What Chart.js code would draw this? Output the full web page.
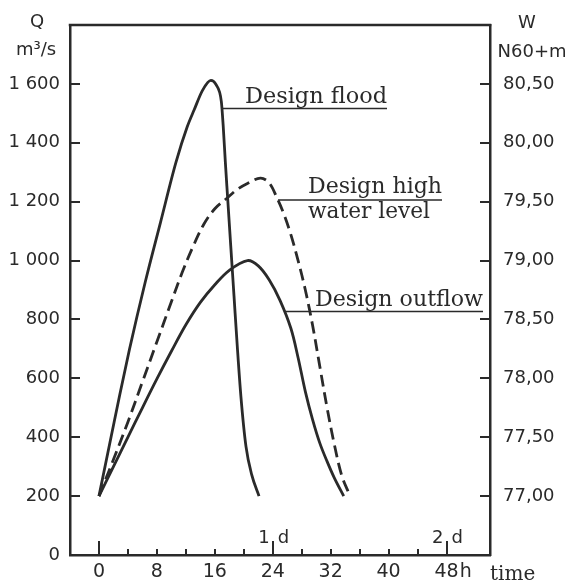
<!DOCTYPE html>
<html><head><meta charset="utf-8">
<script src="https://cdn.jsdelivr.net/npm/chart.js@4"></script>
<style>html,body{margin:0;padding:0;background:#fff}#wrap{width:580px;height:584px;position:relative}</style>
</head><body><div id="wrap"><canvas id="c" width="580" height="584"></canvas></div>
<script>
// ---- data ----
const timeLabelTicks = [0, 8, 16, 24, 32, 40, 48];
const timeMinorTicks = [0, 4, 8, 12, 16, 20, 24, 28, 32, 36, 40, 44, 48];
const dayHours = [24, 48];
const dayLabels = ['1', '2'];
const qTicks = [0, 200, 400, 600, 800, 1000, 1200, 1400, 1600];
const wTicks = [77.0, 77.5, 78.0, 78.5, 79.0, 79.5, 80.0, 80.5];

const floodTime = [0, 1.7, 2.85, 4.2, 6.4, 8.5, 10.65, 12.2, 13.15, 14.3, 15.45, 16.15, 16.9, 17.15, 17.45, 17.75, 18.2, 18.65, 19.1, 19.6, 20.3, 21.1, 22.1];
const floodQ    = [200, 404, 542, 697, 928, 1130, 1335, 1455, 1512, 1578, 1612, 1598, 1540, 1460, 1335, 1220, 1049, 879, 709, 539, 369, 272, 200];

const levelTime = [0, 2, 4, 6, 8, 10, 11.5, 13, 14.5, 16, 17.5, 19, 20.5, 22.3, 23.5, 24.6, 25.5, 26.5, 27.5, 28.5, 29.5, 30.5, 31.5, 32.5, 33.5, 34.6];
const levelW    = [77.00, 77.31, 77.63, 77.97, 78.31, 78.65, 78.90, 79.12, 79.31, 79.44, 79.52, 79.60, 79.655, 79.70, 79.66, 79.53, 79.40, 79.22, 79.00, 78.75, 78.45, 78.10, 77.75, 77.44, 77.18, 77.01];

const outflowTime = [0, 2, 4, 6, 8, 10, 12, 14, 16, 18, 20.5, 22, 23.5, 25, 26.5, 27.5, 28.5, 29.5, 30.5, 31.5, 32.5, 33.8];
const outflowQ    = [200, 300, 400, 500, 598, 692, 782, 858, 918, 967, 1000, 982, 935, 865, 770, 670, 555, 460, 380, 318, 262, 200];

// ---- styling ----
const INK = '#2a2a2a';
const SANS = "'DejaVu Sans', sans-serif";
const SERIF = "'DejaVu Serif', serif";

const pts = (xs, ys) => xs.map((t, i) => ({x: t, y: ys[i]}));

function fitText(ctx, text, x, baseline, target) {
  const w = ctx.measureText(text).width;
  ctx.save();
  ctx.translate(x, baseline);
  ctx.scale(target / w, 1);
  ctx.fillText(text, 0, 0);
  ctx.restore();
}

const overlay = {
  id: 'overlay',
  afterDraw(chart) {
    const {ctx, chartArea: a, scales: {x, y, y2}} = chart;
    ctx.save();
    ctx.strokeStyle = INK; ctx.fillStyle = INK;
    // top frame line
    ctx.lineWidth = 2.5;
    ctx.beginPath(); ctx.moveTo(a.left - 1.25, a.top); ctx.lineTo(a.right + 1.25, a.top); ctx.stroke();
    // inward ticks
    ctx.lineWidth = 2;
    ctx.beginPath();
    qTicks.forEach(v => { if (v === 0) return; const p = Math.round(y.getPixelForValue(v)); ctx.moveTo(a.left, p); ctx.lineTo(a.left + 10, p); });
    wTicks.forEach(v => { const p = Math.round(y2.getPixelForValue(v)); ctx.moveTo(a.right, p); ctx.lineTo(a.right - 10, p); });
    timeMinorTicks.forEach(v => {
      const p = Math.round(x.getPixelForValue(v));
      const long = v === 0 || dayHours.includes(v);
      ctx.moveTo(p, a.bottom); ctx.lineTo(p, a.bottom - (long ? 14 : 6));
    });
    ctx.stroke();

    // day labels
    ctx.font = '18px ' + SANS;
    ctx.textBaseline = 'alphabetic';
    dayHours.forEach((h, i) => {
      const p = x.getPixelForValue(h);
      ctx.textAlign = 'right'; ctx.fillText(dayLabels[i], p - 3, 543);
      ctx.textAlign = 'left'; ctx.fillText('d', p + 5, 543);
    });

    // "h" after 48
    ctx.font = '19px ' + SANS;
    ctx.textAlign = 'left'; ctx.textBaseline = 'middle';
    const p48 = x.getPixelForValue(48);
    const w48 = ctx.measureText('48').width;
    ctx.fillText('h', p48 + w48 / 2 + 1, a.bottom + 6 + 19 * 1.2 / 2);

    // axis titles
    ctx.font = '18px ' + SANS; ctx.textAlign = 'center'; ctx.textBaseline = 'alphabetic';
    ctx.fillText('Q', 37, 27);
    ctx.fillText('m³/s', 36, 55);
    ctx.fillText('W', 527, 28);
    ctx.fillText('N60+m', 532, 57);

    // time
    ctx.font = '20px ' + SERIF; ctx.textAlign = 'left';
    ctx.fillText('time', 490, 580);

    // annotations
    ctx.font = '22px ' + SERIF; ctx.textAlign = 'left';
    fitText(ctx, 'Design flood', 245, 103, 142);
    fitText(ctx, 'Design high', 308, 193, 134);
    fitText(ctx, 'water level', 308, 218, 122);
    fitText(ctx, 'Design outflow', 315, 306, 168);
    ctx.lineWidth = 1.6;
    ctx.beginPath();
    ctx.moveTo(223, 108.5); ctx.lineTo(387, 108.5);
    ctx.moveTo(278, 200); ctx.lineTo(442, 200);
    ctx.moveTo(285, 311.5); ctx.lineTo(483, 311.5);
    ctx.stroke();
    ctx.restore();
  }
};

const lineStyle = {borderColor: INK, borderWidth: 2.8, pointRadius: 0, tension: 0.35, fill: false};

new Chart(document.getElementById('c'), {
  type: 'line',
  data: {
    datasets: [
      Object.assign({label: 'Design flood', data: pts(floodTime, floodQ), yAxisID: 'y'}, lineStyle, {cubicInterpolationMode: 'monotone'}),
      Object.assign({label: 'Design high water level', data: pts(levelTime, levelW), yAxisID: 'y2', borderDash: [12, 6]}, lineStyle),
      Object.assign({label: 'Design outflow', data: pts(outflowTime, outflowQ), yAxisID: 'y'}, lineStyle)
    ]
  },
  options: {
    responsive: false,
    animation: false,
    devicePixelRatio: 1,
    layout: {padding: {top: 25, left: 0, right: 0, bottom: 0}},
    plugins: {legend: {display: false}, tooltip: {enabled: false}},
    scales: {
      x: {
        type: 'linear', min: -4, max: 54,
        afterBuildTicks: s => { s.ticks = timeLabelTicks.map(v => ({value: v})); },
        afterFit: s => { s.height = 29; },
        grid: {display: false, drawTicks: false, tickLength: 0},
        border: {display: true, color: INK, width: 2.5},
        ticks: {color: INK, font: {family: SANS, size: 19}, padding: 6, maxRotation: 0, autoSkip: false, callback: v => String(v)}
      },
      y: {
        type: 'linear', position: 'left', min: 0, max: 1800,
        afterBuildTicks: s => { s.ticks = qTicks.map(v => ({value: v})); },
        afterFit: s => { s.width = 70; },
        grid: {display: false, drawTicks: false, tickLength: 0},
        border: {display: true, color: INK, width: 2.5},
        ticks: {color: INK, font: {family: SANS, size: 18}, padding: 10, autoSkip: false,
          callback: v => v >= 1000 ? String(v).replace(/(\d)(\d{3})$/, '$1 $2') : String(v)}
      },
      y2: {
        type: 'linear', position: 'right', min: 76.5, max: 81.0,
        afterBuildTicks: s => { s.ticks = wTicks.map(v => ({value: v})); },
        afterFit: s => { s.width = 90; },
        grid: {display: false, drawTicks: false, tickLength: 0},
        border: {display: true, color: INK, width: 2.5},
        ticks: {color: INK, font: {family: SANS, size: 18}, padding: 13, autoSkip: false,
          callback: v => v.toFixed(2).replace('.', ',')}
      }
    }
  },
  plugins: [overlay]
});
</script></body></html>
